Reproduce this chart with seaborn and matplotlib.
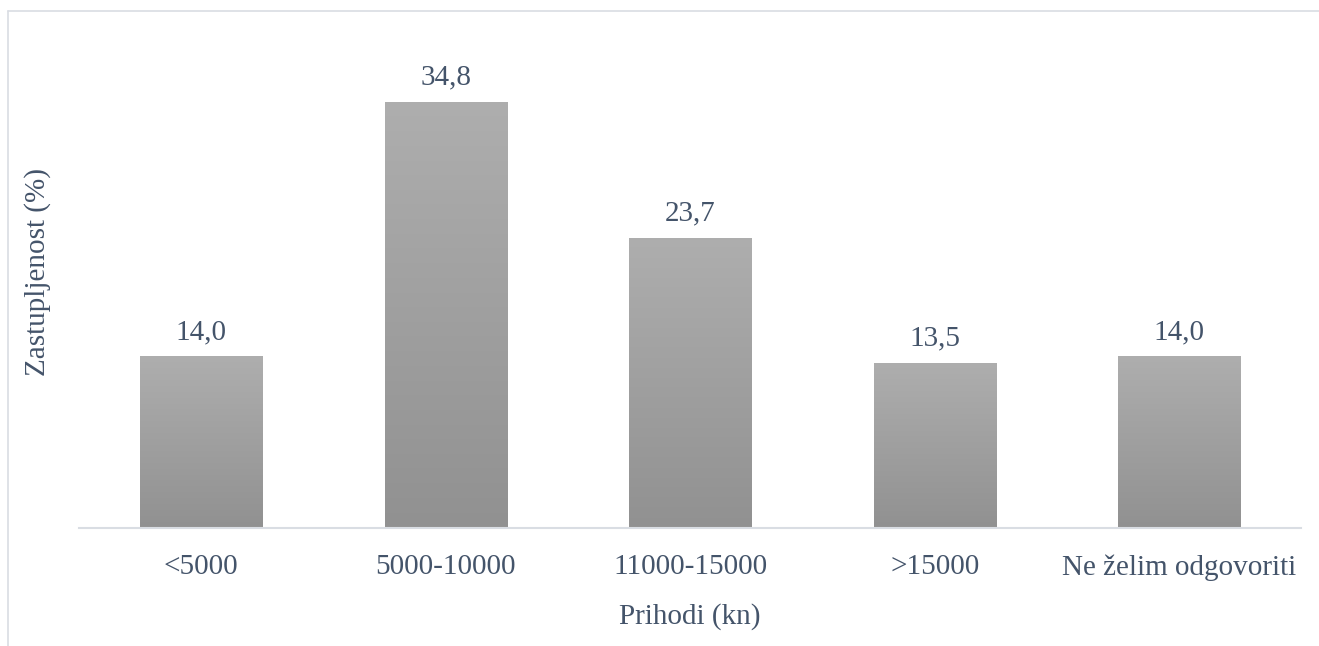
import numpy as np
import pandas as pd
import seaborn as sns
import matplotlib.pyplot as plt
from matplotlib.colors import LinearSegmentedColormap
from matplotlib.lines import Line2D

categories = ['<5000', '5000-10000', '11000-15000', '>15000', 'Ne želim odgovoriti']
values = [14.0, 34.8, 23.7, 13.5, 14.0]

df = pd.DataFrame({'prihodi': categories, 'udio': values})

sns.set_style('white')
plt.rcParams['font.family'] = ['Liberation Serif', 'DejaVu Serif']
txt = '#44546a'

fig = plt.figure(figsize=(13.19, 6.46), dpi=100)
ax = fig.add_axes([0.0599, 0.1827, 0.9268, 0.7585])

sns.barplot(data=df, x='prihodi', y='udio', color='#a0a0a0', width=0.5, ax=ax)

# vertical gradient fill for each bar
cmap = LinearSegmentedColormap.from_list('g', ['#919191', '#aeaeae'])
grad = np.linspace(0, 1, 256).reshape(-1, 1)
for p in ax.patches:
    x0, w, h = p.get_x(), p.get_width(), p.get_height()
    im = ax.imshow(grad, cmap=cmap, aspect='auto', origin='lower',
                   extent=[x0, x0 + w, 0, h], zorder=p.get_zorder())
    im.set_clip_path(p)
    p.set_facecolor('none')
    p.set_edgecolor('none')
    ax.annotate(f'{h:.1f}'.replace('.', ','), (x0 + w / 2, h),
                xytext=(0, 8), textcoords='offset points',
                ha='center', va='bottom', fontsize=21, color=txt)
ax.set_xlim(-0.5, 4.5)
ax.set_ylim(0, 40)

for s in ['top', 'right', 'left']:
    ax.spines[s].set_visible(False)
ax.spines['bottom'].set_color('#d9dde3')
ax.spines['bottom'].set_linewidth(1.5)
ax.set_yticks([])
ax.tick_params(axis='x', length=0, pad=19, labelsize=21, labelcolor=txt)

ax.set_xlabel('Prihodi (kn)', fontsize=21, color=txt, labelpad=16)
ax.set_ylabel('Zastupljenost (%)', fontsize=21, color=txt)
ax.yaxis.set_label_coords(-0.023, 0.522)

# chart frame
fig.add_artist(Line2D([8 / 1319, 1], [1 - 11 / 646, 1 - 11 / 646],
                      transform=fig.transFigure, color='#d9dde3', lw=1.2))
fig.add_artist(Line2D([8 / 1319, 8 / 1319], [0, 1 - 11 / 646],
                      transform=fig.transFigure, color='#d9dde3', lw=1.2))

fig.savefig('out.png', dpi=100)
